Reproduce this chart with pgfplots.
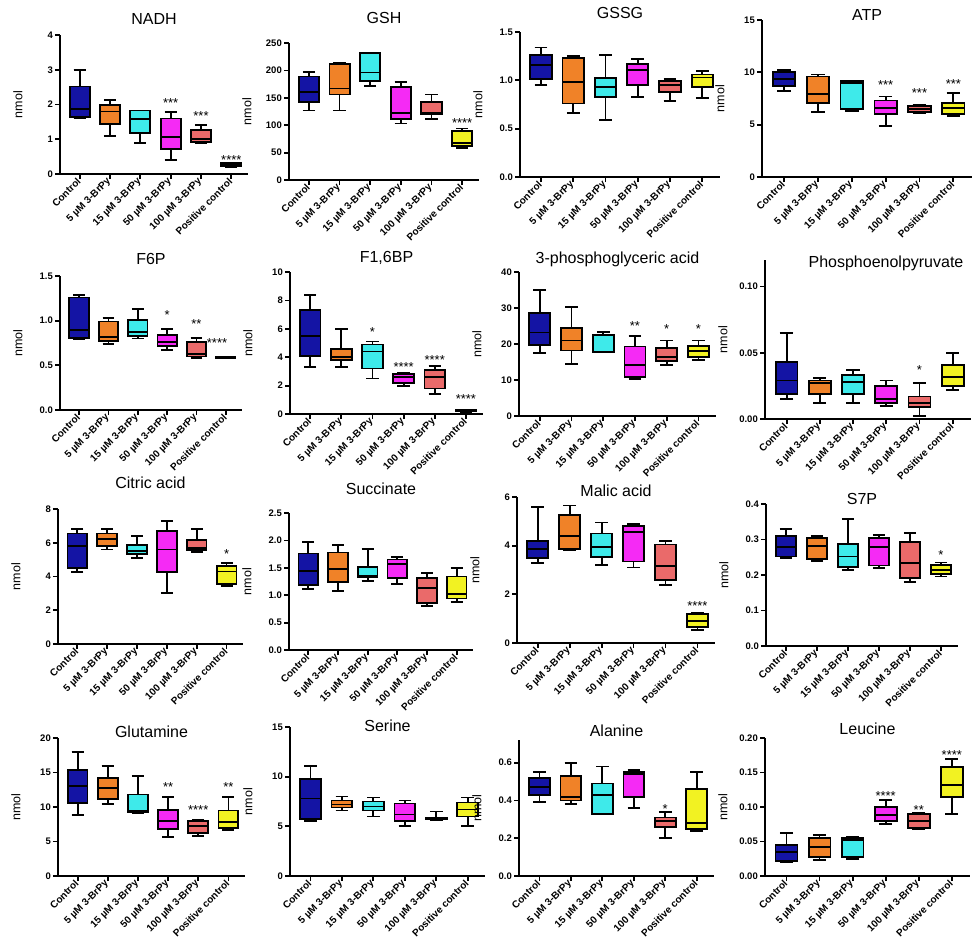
\documentclass[border=0pt]{standalone}
\usepackage{pgfplots}
\pgfplotsset{compat=1.18}
\usepgfplotslibrary{statistics}
\usetikzlibrary{patterns}
\usepackage{fontspec}
\setmainfont{Liberation Sans}
\definecolor{cA}{HTML}{1414A4}
\definecolor{cB}{HTML}{F08228}
\definecolor{cC}{HTML}{3EEAEA}
\definecolor{cD}{HTML}{F52AF5}
\definecolor{cE}{HTML}{EA6A6A}
\definecolor{cF}{HTML}{F2F222}
\definecolor{pA}{HTML}{4A4AF0}
\definecolor{pB}{HTML}{D06A18}
\definecolor{pC}{HTML}{20C8C8}
\definecolor{pD}{HTML}{D018D0}
\definecolor{pE}{HTML}{C85050}
\definecolor{pF}{HTML}{D0D010}
\newcommand{\bx}[7]{\addplot[boxplot prepared={draw position=#1,lower whisker=#2,lower quartile=#3,median=#4,upper quartile=#5,upper whisker=#6,box extend=0.66,whisker extend=0.4}, draw=black, line width=1.8pt, fill=c#7, postaction={pattern=crosshatch dots, pattern color=p#7}] coordinates {};}
\newcommand{\st}[3]{\node[font=\fontsize{13}{13}\selectfont, inner sep=0pt, yshift=-3pt] at (axis cs:#1,#2) {#3};}
\pgfplotsset{
 mb/.style={
  scale only axis, anchor=south west,
  boxplot/draw direction=y,
  xmin=0.35, xmax=6.55, ymin=0,
  axis lines=left, axis line style={-, line width=1.8pt},
  tick align=outside, major tick length=5pt, tick style={line width=1.8pt, black},
  xtick={1,...,6},
  xticklabels={Control, 5 µM 3-BrPy, 15 µM 3-BrPy, 50 µM 3-BrPy, 100 µM 3-BrPy, Positive control},
  xticklabel style={rotate=45, anchor=east, font=\bfseries\fontsize{10}{11}\selectfont, inner sep=1pt},
  yticklabel style={font=\bfseries\fontsize{9.5}{10}\selectfont, inner sep=2pt},
  /pgf/number format/assume math mode=true,
  ylabel={nmol},
  ylabel style={at={(rel axis cs:0,0.5)}, anchor=center, yshift=42pt, font=\fontsize{12.5}{14}\selectfont},
  clip=false,
 },
 tt/.style n args={3}{title={#1}, title style={at={(0.5,1)}, anchor=center, yshift=#2pt, xshift=#3pt, font=\fontsize{16}{18}\selectfont}},
 d1/.style={yticklabel style={/pgf/number format/.cd, fixed, fixed zerofill, precision=1}},
 d2/.style={yticklabel style={/pgf/number format/.cd, fixed, fixed zerofill, precision=2}},
}
\begin{document}
\begin{tikzpicture}
\path[use as bounding box] (0,0) rectangle (974pt,-944pt);
% ---------- Row 1
\begin{axis}[mb, at={(60pt,-174pt)}, width=188pt, height=139pt, ymax=4, ytick={0,1,2,3,4}, tt={NADH}{10.5}{0}]
\bx{1}{1.6}{1.65}{1.88}{2.52}{3.0}{A}
\bx{2}{1.1}{1.45}{1.8}{1.98}{2.12}{B}
\bx{3}{0.9}{1.18}{1.58}{1.83}{1.83}{C}
\bx{4}{0.4}{0.72}{1.07}{1.6}{1.78}{D}
\bx{5}{0.88}{0.92}{1.0}{1.27}{1.4}{E}
\bx{6}{0.2}{0.24}{0.28}{0.31}{0.33}{F}
\st{4}{2.13}{***}\st{5}{1.76}{***}\st{6}{0.49}{****}
\end{axis}
\begin{axis}[mb, at={(289pt,-180pt)}, width=190pt, height=137pt, ymax=250, ytick={0,50,100,150,200,250}, tt={GSH}{19}{0}]
\bx{1}{127}{142}{161}{189}{197}{A}
\bx{2}{127}{156}{167}{211}{214}{B}
\bx{3}{171}{181}{196}{232}{232}{C}
\bx{4}{103}{111}{122}{170}{179}{D}
\bx{5}{112}{120}{123}{143}{156}{E}
\bx{6}{58}{62}{68}{89}{94}{F}
\st{6}{109}{****}
\end{axis}
\begin{axis}[mb, d1, at={(520pt,-177pt)}, width=200pt, height=145pt, ymax=1.5, ytick={0,0.5,1,1.5}, tt={GSSG}{13}{0}]
\bx{1}{0.95}{1.01}{1.16}{1.26}{1.34}{A}
\bx{2}{0.66}{0.76}{0.98}{1.23}{1.25}{B}
\bx{3}{0.59}{0.83}{0.93}{1.02}{1.26}{C}
\bx{4}{0.83}{0.95}{1.11}{1.17}{1.22}{D}
\bx{5}{0.79}{0.88}{0.95}{0.99}{1.01}{E}
\bx{6}{0.82}{0.93}{1.03}{1.06}{1.10}{F}
\end{axis}
\begin{axis}[mb, at={(762pt,-177pt)}, width=210pt, height=157pt, ymax=15, ytick={0,5,10,15}, tt={ATP}{-1}{0}]
\bx{1}{8.2}{8.7}{9.4}{10.0}{10.2}{A}
\bx{2}{6.2}{7.1}{7.9}{9.6}{9.8}{B}
\bx{3}{6.3}{6.5}{9.0}{9.2}{9.2}{C}
\bx{4}{4.9}{6.0}{6.6}{7.3}{7.7}{D}
\bx{5}{6.1}{6.2}{6.5}{6.8}{6.9}{E}
\bx{6}{5.8}{6.0}{6.6}{7.1}{8.0}{F}
\st{4}{9.1}{***}\st{5}{8.3}{***}\st{6}{9.2}{***}
\end{axis}
% ---------- Row 2
\begin{axis}[mb, d1, at={(60pt,-410pt)}, width=182pt, height=134pt, ymax=1.5, ytick={0,0.5,1,1.5}, tt={F6P}{11}{0}]
\bx{1}{0.79}{0.81}{0.90}{1.26}{1.29}{A}
\bx{2}{0.74}{0.77}{0.82}{0.99}{1.03}{B}
\bx{3}{0.80}{0.83}{0.87}{1.01}{1.13}{C}
\bx{4}{0.67}{0.72}{0.76}{0.84}{0.91}{D}
\bx{5}{0.58}{0.60}{0.63}{0.76}{0.81}{E}
\bx{6}{0.58}{0.585}{0.59}{0.595}{0.60}{F}
\st{4}{1.10}{*}\st{5}{1.0}{**}\st{5.7}{0.78}{****}
\end{axis}
\begin{axis}[mb, at={(290pt,-414pt)}, width=193pt, height=142pt, ymax=10, ytick={0,2,4,6,8,10}, tt={F1,6BP}{8}{0}]
\bx{1}{3.3}{4.1}{5.5}{7.3}{8.4}{A}
\bx{2}{3.3}{3.8}{4.0}{4.6}{6.0}{B}
\bx{3}{2.5}{3.2}{4.4}{4.9}{5.1}{C}
\bx{4}{2.0}{2.2}{2.6}{2.8}{2.9}{D}
\bx{5}{1.4}{1.8}{2.6}{3.1}{3.4}{E}
\bx{6}{0.15}{0.18}{0.22}{0.28}{0.3}{F}
\st{3}{6.0}{*}\st{4}{3.5}{****}\st{5}{4.0}{****}\st{6}{1.27}{****}
\end{axis}
\begin{axis}[mb, at={(519pt,-416pt)}, width=197pt, height=144pt, ymax=40, ytick={0,10,20,30,40}, tt={3-phosphoglyceric acid}{7}{0}]
\bx{1}{17.5}{19.8}{23.2}{28.7}{35}{A}
\bx{2}{14.5}{18.2}{21}{24.5}{30.3}{B}
\bx{3}{17.7}{17.8}{22.5}{22.6}{23.3}{C}
\bx{4}{10.2}{10.8}{14.1}{19.3}{22.2}{D}
\bx{5}{14.2}{15.3}{16.4}{18.8}{21}{E}
\bx{6}{15.6}{16.5}{18}{19.5}{21}{F}
\st{4}{25.8}{**}\st{5}{25}{*}\st{6}{25}{*}
\end{axis}
\begin{axis}[mb, d2, at={(765pt,-419pt)}, width=206pt, height=159pt, ymax=0.12, ytick={0,0.05,0.10}, tt={Phosphoenolpyruvate}{-9}{18}]
\bx{1}{0.015}{0.019}{0.029}{0.043}{0.065}{A}
\bx{2}{0.012}{0.019}{0.027}{0.029}{0.031}{B}
\bx{3}{0.012}{0.019}{0.028}{0.033}{0.037}{C}
\bx{4}{0.010}{0.012}{0.015}{0.025}{0.029}{D}
\bx{5}{0.002}{0.009}{0.012}{0.017}{0.027}{E}
\bx{6}{0.022}{0.025}{0.032}{0.041}{0.050}{F}
\st{5}{0.039}{*}
\end{axis}
% ---------- Row 3
\begin{axis}[mb, at={(58pt,-644pt)}, width=185pt, height=135pt, ymax=8, ytick={0,2,4,6,8}, tt={Citric acid}{20}{0}]
\bx{1}{4.25}{4.5}{5.8}{6.55}{6.8}{A}
\bx{2}{5.6}{5.8}{6.2}{6.55}{6.8}{B}
\bx{3}{5.1}{5.35}{5.5}{5.85}{6.4}{C}
\bx{4}{3.0}{4.25}{5.6}{6.7}{7.3}{D}
\bx{5}{5.45}{5.55}{5.7}{6.15}{6.8}{E}
\bx{6}{3.45}{3.55}{4.3}{4.6}{4.8}{F}
\st{6}{5.5}{*}
\end{axis}
\begin{axis}[mb, d1, at={(289pt,-650pt)}, width=184pt, height=137pt, ymax=2.5, ytick={0,0.5,1,1.5,2,2.5}, tt={Succinate}{18}{0}]
\bx{1}{1.12}{1.19}{1.44}{1.76}{1.97}{A}
\bx{2}{1.08}{1.24}{1.48}{1.78}{1.91}{B}
\bx{3}{1.26}{1.33}{1.35}{1.51}{1.84}{C}
\bx{4}{1.2}{1.31}{1.57}{1.65}{1.69}{D}
\bx{5}{0.8}{0.86}{1.13}{1.31}{1.4}{E}
\bx{6}{0.87}{0.94}{1.02}{1.34}{1.49}{F}
\end{axis}
\begin{axis}[mb, at={(517pt,-643pt)}, width=198pt, height=146pt, ymax=6, ytick={0,2,4,6}, tt={Malic acid}{0}{0}]
\bx{1}{3.3}{3.5}{3.85}{4.2}{5.6}{A}
\bx{2}{3.8}{3.85}{4.4}{5.25}{5.65}{B}
\bx{3}{3.2}{3.55}{3.95}{4.5}{4.95}{C}
\bx{4}{3.1}{3.35}{4.55}{4.8}{4.9}{D}
\bx{5}{2.4}{2.6}{3.15}{4.05}{4.2}{E}
\bx{6}{0.55}{0.65}{0.9}{1.2}{1.25}{F}
\st{6}{1.64}{****}
\end{axis}
\begin{axis}[mb, d1, at={(766pt,-646pt)}, width=192pt, height=142pt, ymax=0.4, ytick={0,0.1,0.2,0.3,0.4}, tt={S7P}{-1}{0}]
\bx{1}{0.248}{0.252}{0.278}{0.31}{0.33}{A}
\bx{2}{0.24}{0.246}{0.282}{0.305}{0.31}{B}
\bx{3}{0.213}{0.222}{0.252}{0.288}{0.358}{C}
\bx{4}{0.219}{0.227}{0.278}{0.305}{0.313}{D}
\bx{5}{0.18}{0.192}{0.234}{0.292}{0.318}{E}
\bx{6}{0.196}{0.203}{0.215}{0.228}{0.235}{F}
\st{6}{0.265}{*}
\end{axis}
% ---------- Row 4
\begin{axis}[mb, at={(58pt,-876pt)}, width=187pt, height=138pt, ymax=20, ytick={0,5,10,15,20}, tt={Glutamine}{0}{0}]
\bx{1}{8.8}{10.6}{13}{15.4}{18}{A}
\bx{2}{10.4}{11.2}{12.7}{14.2}{16}{B}
\bx{3}{9.1}{9.3}{9.5}{11.8}{14.5}{C}
\bx{4}{5.6}{6.8}{8.0}{9.6}{11.5}{D}
\bx{5}{5.8}{6.2}{7.3}{8.0}{8.2}{E}
\bx{6}{6.7}{7.0}{7.8}{9.5}{11.5}{F}
\st{4}{13.3}{**}\st{5}{10}{****}\st{6}{13.3}{**}
\end{axis}
\begin{axis}[mb, at={(290pt,-876pt)}, width=195pt, height=149pt, ymax=15, ytick={0,5,10,15}, tt={Serine}{-5}{0}]
\bx{1}{5.5}{5.7}{7.8}{9.8}{11.1}{A}
\bx{2}{6.6}{6.9}{7.2}{7.6}{8.0}{B}
\bx{3}{6.0}{6.6}{7.0}{7.5}{7.9}{C}
\bx{4}{5.0}{5.5}{6.2}{7.3}{7.6}{D}
\bx{5}{5.6}{5.7}{5.8}{5.9}{6.5}{E}
\bx{6}{5.0}{6.0}{6.7}{7.4}{7.9}{F}
\end{axis}
\begin{axis}[mb, d1, at={(519pt,-876pt)}, width=195pt, height=136pt, ymax=0.72, ytick={0,0.2,0.4,0.6}, tt={Alanine}{3}{0}]
\bx{1}{0.39}{0.43}{0.47}{0.52}{0.55}{A}
\bx{2}{0.38}{0.40}{0.42}{0.53}{0.60}{B}
\bx{3}{0.33}{0.33}{0.43}{0.49}{0.58}{C}
\bx{4}{0.36}{0.42}{0.54}{0.55}{0.56}{D}
\bx{5}{0.20}{0.26}{0.29}{0.31}{0.34}{E}
\bx{6}{0.24}{0.25}{0.28}{0.46}{0.55}{F}
\st{5}{0.37}{*}
\end{axis}
\begin{axis}[mb, d2, at={(765pt,-876pt)}, width=205pt, height=138pt, ymax=0.2, ytick={0,0.05,0.1,0.15,0.2}, tt={Leucine}{3}{0}]
\bx{1}{0.02}{0.022}{0.035}{0.045}{0.062}{A}
\bx{2}{0.023}{0.028}{0.042}{0.055}{0.06}{B}
\bx{3}{0.025}{0.028}{0.052}{0.055}{0.057}{C}
\bx{4}{0.075}{0.08}{0.088}{0.10}{0.11}{D}
\bx{5}{0.068}{0.07}{0.08}{0.09}{0.092}{E}
\bx{6}{0.09}{0.115}{0.132}{0.158}{0.17}{F}
\st{4}{0.12}{****}\st{5}{0.1}{**}\st{6}{0.18}{****}
\end{axis}
\end{tikzpicture}
\end{document}
